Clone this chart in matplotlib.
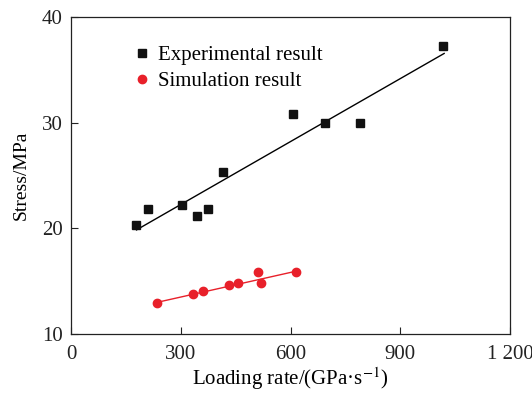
import matplotlib
matplotlib.use("Agg")
import matplotlib.pyplot as plt
import numpy as np

plt.rcParams['font.family'] = ['Liberation Serif', 'DejaVu Serif']
plt.rcParams['mathtext.fontset'] = 'stix'

exp_x = [177, 210, 303, 344, 374, 416, 608, 693, 789, 1017]
exp_y = [20.3, 21.8, 22.2, 21.2, 21.8, 25.3, 30.8, 30.0, 30.0, 37.3]
sim_x = [236, 333, 362, 433, 457, 510, 520, 616]
sim_y = [12.9, 13.8, 14.1, 14.6, 14.8, 15.9, 14.8, 15.9]

exp_line_x = [179, 1020]
exp_line_y = [19.85, 36.55]
sim_line_x = [236, 616]
sim_line_y = [13.0, 15.95]

xticks = [0, 300, 600, 900, 1200]
xticklabels = ['0', '300', '600', '900', '1 200']
yticks = [10, 20, 30, 40]

red = '#e8202a'

fig = plt.figure(figsize=(5.32, 3.94), dpi=100)
ax = fig.add_axes([71/532, 1-334/394, (510-71)/532, (334-17)/394])

ax.plot(exp_line_x, exp_line_y, color='black', lw=1.0, zorder=2)
ax.plot(sim_line_x, sim_line_y, color=red, lw=1.0, zorder=2)
ax.plot(exp_x, exp_y, 's', color='#111111', ms=5.6, ls='none', label='Experimental result', zorder=3)
ax.plot(sim_x, sim_y, 'o', color=red, ms=6.0, ls='none', label='Simulation result', zorder=3)

ax.set_xlim(0, 1200)
ax.set_ylim(10, 40)
ax.set_xticks(xticks)
ax.set_xticklabels(xticklabels)
ax.set_yticks(yticks)
ax.tick_params(direction='in', length=5, width=0.8, labelsize=15, top=False, right=False,
               colors='#222222')
ax.tick_params(axis='x', pad=8)
ax.tick_params(axis='y', pad=6)
for s in ax.spines.values():
    s.set_linewidth(0.9)
    s.set_color('#222222')

ax.set_xlabel('Loading rate/(GPa·s$^{-1}$)', fontsize=15, labelpad=1)
ax.set_ylabel('Stress/MPa', fontsize=14, labelpad=9)

ax.legend(loc='upper left', bbox_to_anchor=(0.118, 0.95), frameon=False, fontsize=15,
          handlelength=0.6, handletextpad=0.5, labelspacing=0.33, markerscale=1.0,
          borderaxespad=0.2)

fig.savefig('out.png', dpi=100)
